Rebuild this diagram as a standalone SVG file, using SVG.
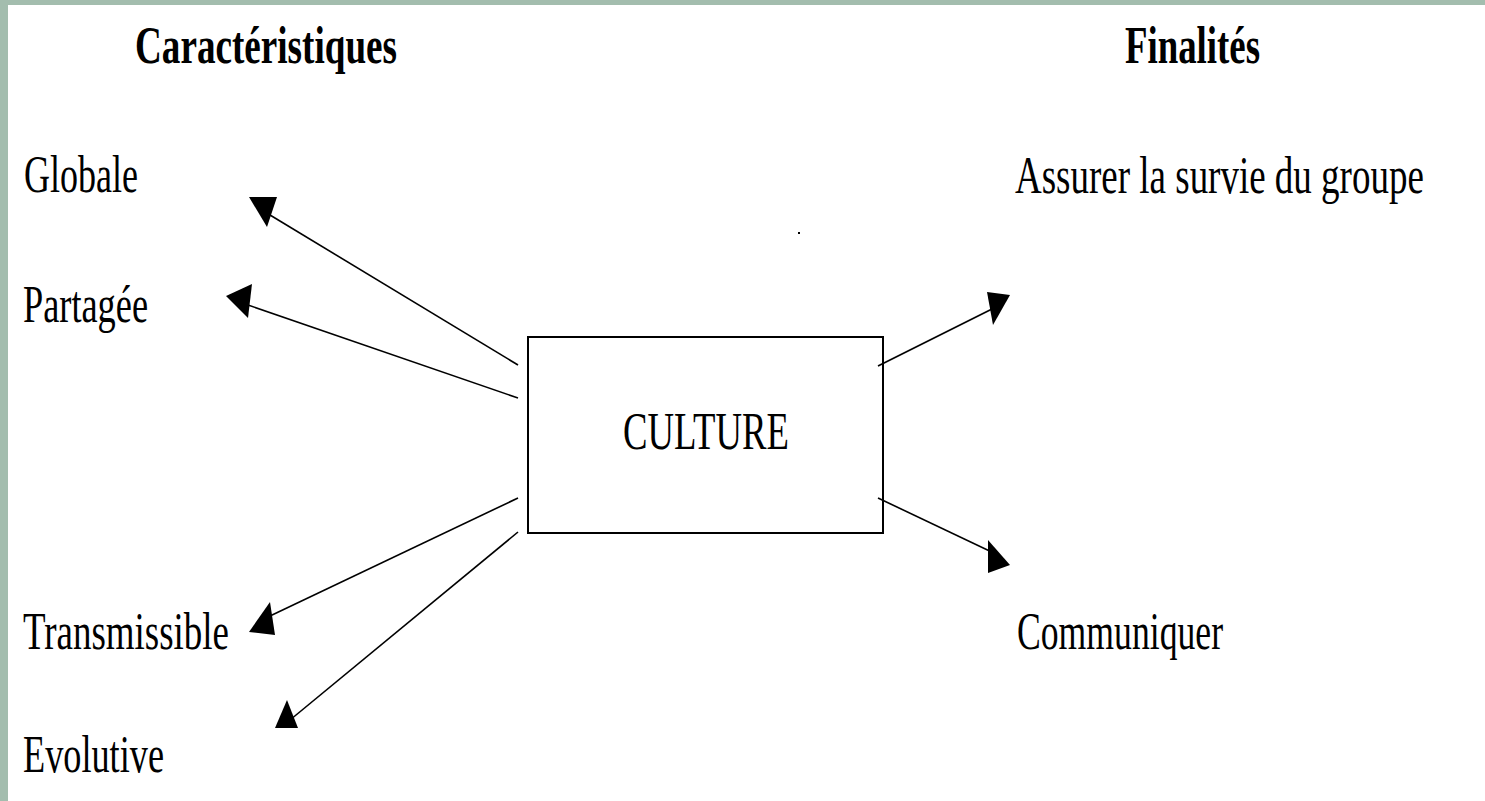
<svg xmlns="http://www.w3.org/2000/svg" width="1485" height="801" viewBox="0 0 1485 801">
<style>
text{font-family:"Liberation Serif","Times New Roman",serif;font-size:52px;fill:#000}
.h{font-weight:bold}
.ln{stroke:#000;stroke-width:1.6;fill:none}
.ah{fill:#000}
</style>
<rect x="0" y="0" width="1485" height="801" fill="#fff"/>
<rect x="0" y="0" width="1485" height="5" fill="#a3bdae"/>
<rect x="0" y="0" width="8" height="801" fill="#a3bdae"/>
<g id="heading-left"><text class="h" x="135" y="63" textLength="262" lengthAdjust="spacingAndGlyphs">Caractéristiques</text></g>
<g id="heading-right"><text class="h" x="1125" y="63" textLength="135" lengthAdjust="spacingAndGlyphs">Finalités</text></g>
<g id="globale"><text x="24" y="192" textLength="114" lengthAdjust="spacingAndGlyphs">Globale</text></g>
<g id="partagee"><text x="23" y="322" textLength="125" lengthAdjust="spacingAndGlyphs">Partagée</text></g>
<g id="transmissible"><text x="23" y="649" textLength="206" lengthAdjust="spacingAndGlyphs">Transmissible</text></g>
<g id="evolutive"><text x="23" y="772" textLength="141" lengthAdjust="spacingAndGlyphs">Evolutive</text></g>
<g id="survie" transform="translate(1015,193) scale(0.711,1)"><text x="0" y="0" textLength="575" lengthAdjust="spacingAndGlyphs">Assurer la survie du groupe</text></g>
<g id="communiquer"><text x="1017" y="649" textLength="206" lengthAdjust="spacingAndGlyphs">Communiquer</text></g>
<g id="culture">
<rect x="528" y="337" width="355" height="196" fill="none" stroke="#000" stroke-width="2"/>
<text x="623" y="449" textLength="166" lengthAdjust="spacingAndGlyphs">CULTURE</text>
</g>
<g id="connectors">
<line class="ln" x1="518" y1="365" x2="270" y2="215"/>
<polygon class="ah" points="249,197 277,197 267,227"/>
<line class="ln" x1="518" y1="398" x2="248" y2="305"/>
<polygon class="ah" points="226,296 252,284 248,318"/>
<line class="ln" x1="518" y1="498" x2="270" y2="616"/>
<polygon class="ah" points="249,632 270,602 275,635"/>
<line class="ln" x1="518" y1="532" x2="290" y2="720"/>
<polygon class="ah" points="275,728 287,700 298,728"/>
<line class="ln" x1="878" y1="366" x2="998" y2="306"/>
<polygon class="ah" points="987,292 1010,295 993,325"/>
<line class="ln" x1="878" y1="498" x2="998" y2="555"/>
<polygon class="ah" points="988,540 1010,565 988,573"/>
</g>
<rect x="798" y="232" width="2" height="2" fill="#000"/>
</svg>
